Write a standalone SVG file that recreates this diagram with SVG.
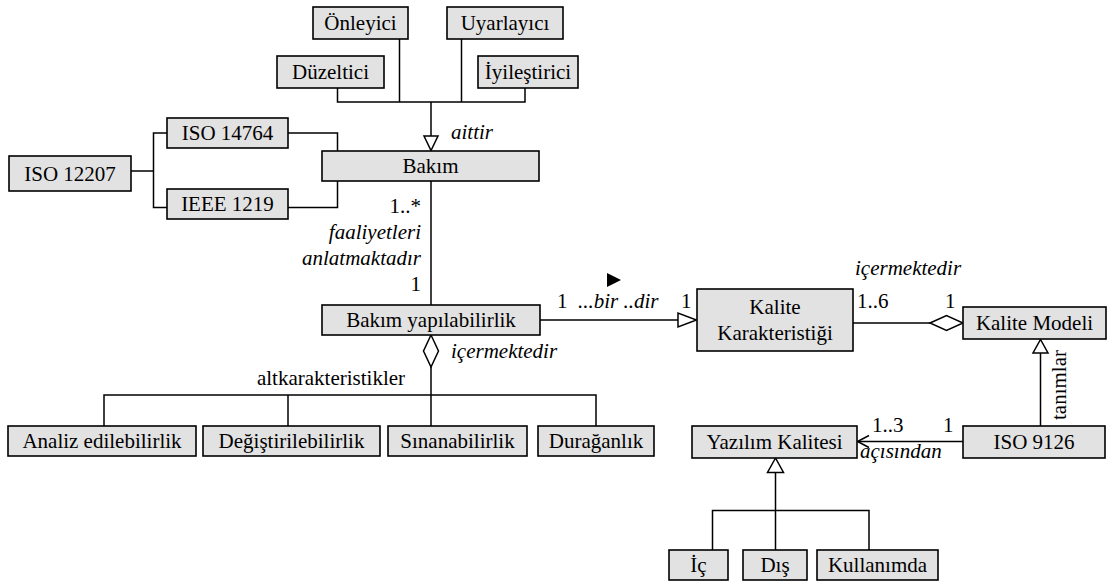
<svg xmlns="http://www.w3.org/2000/svg" width="1114" height="581" viewBox="0 0 1114 581" font-family="'Liberation Serif', Tinos, 'Times New Roman', 'Nimbus Roman', 'FreeSerif', 'Noto Serif', 'DejaVu Serif', serif">
  <style>
    .box { fill: #e2e2e2; stroke: #000; stroke-width: 1.6; }
    .t, .lbl { font-family: 'Liberation Serif', Tinos, 'Times New Roman', 'Nimbus Roman', 'FreeSerif', 'Noto Serif', 'DejaVu Serif', serif; font-size: 21px; fill: #000; }
    .t { text-anchor: middle; }
    .it { font-style: italic; }
    .end { text-anchor: end; }
    .mid { text-anchor: middle; }
    .ln { fill: none; stroke: #000; stroke-width: 1.5; }
    .hollow { fill: #fff; stroke: #000; stroke-width: 1.5; }
    .solid { fill: #000; stroke: none; }
  </style>

  <!-- connectors -->
  <g id="connectors">
    <!-- maintenance types generalise Bakım -->
    <path class="ln" d="M337.5 88 V102 H525 V88"/>
    <path class="ln" d="M399.5 39 V102"/>
    <path class="ln" d="M461.5 39 V102"/>
    <path class="ln" d="M431 102 V136"/>
    <polygon class="hollow" points="424,136 438,136 431,150.5"/>

    <!-- standards tree -->
    <path class="ln" d="M131 171 H153.5"/>
    <path class="ln" d="M167 133 H153.5 V207.5 H167"/>
    <path class="ln" d="M288 133 H337.5 V151"/>
    <path class="ln" d="M288 207.5 H337.5 V181"/>

    <!-- Bakım to Bakım yapılabilirlik -->
    <path class="ln" d="M431 181 V305"/>

    <!-- Bakım yapılabilirlik generalises to Kalite Karakteristiği -->
    <path class="ln" d="M540 320 H678"/>
    <polygon class="hollow" points="678,313 678,327 696.5,320"/>
    <polygon class="solid" points="607,273 621,280 607,287"/>

    <!-- sub-characteristics aggregation -->
    <polygon class="hollow" points="431,335 438.5,351 431,367 423.5,351"/>
    <path class="ln" d="M431 367 V426"/>
    <path class="ln" d="M104 426 V395 H596 V426"/>
    <path class="ln" d="M288 395 V426"/>

    <!-- Kalite Karakteristiği aggregated by Kalite Modeli -->
    <path class="ln" d="M853 323 H930"/>
    <polygon class="hollow" points="930,323 946.5,315.5 963,323 946.5,330.5"/>

    <!-- ISO 9126 defines Kalite Modeli -->
    <path class="ln" d="M1040.5 426 V353"/>
    <polygon class="hollow" points="1033,353 1048,353 1040.5,339.5"/>

    <!-- ISO 9126 to Yazılım Kalitesi -->
    <path class="ln" d="M963 441.5 H857.5"/>
    <path class="ln" d="M869 435.5 L857.5 441.5 L869 447.5"/>

    <!-- Yazılım Kalitesi views -->
    <polygon class="hollow" points="775.5,458 767.5,472.5 783.5,472.5"/>
    <path class="ln" d="M775.5 472.5 V550"/>
    <path class="ln" d="M712.5 550 V510.5 H869 V550"/>

    <!-- association labels -->
    <text class="lbl it" x="451" y="139">aittir</text>
    <text class="lbl end" x="421" y="213">1..*</text>
    <text class="lbl it end" x="421" y="239">faaliyetleri</text>
    <text class="lbl it end" x="421" y="265">anlatmaktadır</text>
    <text class="lbl end" x="421" y="291">1</text>
    <text class="lbl" x="557" y="308">1</text>
    <text class="lbl it" x="578" y="308">...bir ..dir</text>
    <text class="lbl" x="681" y="308">1</text>
    <text class="lbl it" x="451" y="358">içermektedir</text>
    <text class="lbl mid" x="331" y="385">altkarakteristikler</text>
    <text class="lbl it" x="855" y="275">içermektedir</text>
    <text class="lbl" x="857" y="308">1..6</text>
    <text class="lbl" x="945" y="308">1</text>
    <text class="lbl" x="872" y="432">1..3</text>
    <text class="lbl" x="943" y="432">1</text>
    <text class="lbl it" x="860" y="458">açısından</text>
    <text class="lbl mid" transform="translate(1066,385) rotate(-90)">tanımlar</text>
  </g>

  <!-- nodes -->
  <g id="onleyici"><rect class="box" x="313" y="7" width="95" height="32"/><text class="t" x="360.5" y="30">Önleyici</text></g>
  <g id="uyarlayici"><rect class="box" x="447" y="7" width="116" height="32"/><text class="t" x="505" y="30">Uyarlayıcı</text></g>
  <g id="duzeltici"><rect class="box" x="277" y="56" width="107" height="32"/><text class="t" x="330.5" y="79">Düzeltici</text></g>
  <g id="iyilestirici"><rect class="box" x="478" y="56" width="100" height="32"/><text class="t" x="528" y="79">İyileştirici</text></g>
  <g id="bakim"><rect class="box" x="322" y="151" width="217" height="30"/><text class="t" x="430.5" y="173">Bakım</text></g>
  <g id="iso14764"><rect class="box" x="167" y="118" width="121" height="30"/><text class="t" x="227.5" y="140">ISO 14764</text></g>
  <g id="ieee1219"><rect class="box" x="167" y="189" width="121" height="30"/><text class="t" x="227.5" y="211">IEEE 1219</text></g>
  <g id="iso12207"><rect class="box" x="9" y="156" width="122" height="35"/><text class="t" x="70" y="180.5">ISO 12207</text></g>
  <g id="bakim-yapilabilirlik"><rect class="box" x="322" y="305" width="218" height="30"/><text class="t" x="431" y="327">Bakım yapılabilirlik</text></g>
  <g id="kalite-karakteristigi"><rect class="box" x="697" y="289" width="156" height="62"/><text class="t" x="775" y="314">Kalite</text><text class="t" x="775" y="340">Karakteristiği</text></g>
  <g id="kalite-modeli"><rect class="box" x="963" y="307" width="143" height="32"/><text class="t" x="1034.5" y="330">Kalite Modeli</text></g>
  <g id="iso9126"><rect class="box" x="963" y="426" width="142" height="32"/><text class="t" x="1034" y="449">ISO 9126</text></g>
  <g id="yazilim-kalitesi"><rect class="box" x="692" y="426" width="165" height="32"/><text class="t" x="774.5" y="449">Yazılım Kalitesi</text></g>
  <g id="analiz"><rect class="box" x="8" y="426" width="188" height="30"/><text class="t" x="102" y="448">Analiz edilebilirlik</text></g>
  <g id="degistirilebilirlik"><rect class="box" x="203" y="426" width="177" height="30"/><text class="t" x="291.5" y="448">Değiştirilebilirlik</text></g>
  <g id="sinanabilirlik"><rect class="box" x="388" y="426" width="139" height="30"/><text class="t" x="457.5" y="448">Sınanabilirlik</text></g>
  <g id="duraganlik"><rect class="box" x="538" y="426" width="116" height="30"/><text class="t" x="596" y="448">Durağanlık</text></g>
  <g id="ic"><rect class="box" x="669" y="550" width="59" height="30"/><text class="t" x="698.5" y="572">İç</text></g>
  <g id="dis"><rect class="box" x="743" y="550" width="64" height="30"/><text class="t" x="775" y="572">Dış</text></g>
  <g id="kullanimda"><rect class="box" x="817" y="550" width="121" height="30"/><text class="t" x="877.5" y="572">Kullanımda</text></g>
</svg>
